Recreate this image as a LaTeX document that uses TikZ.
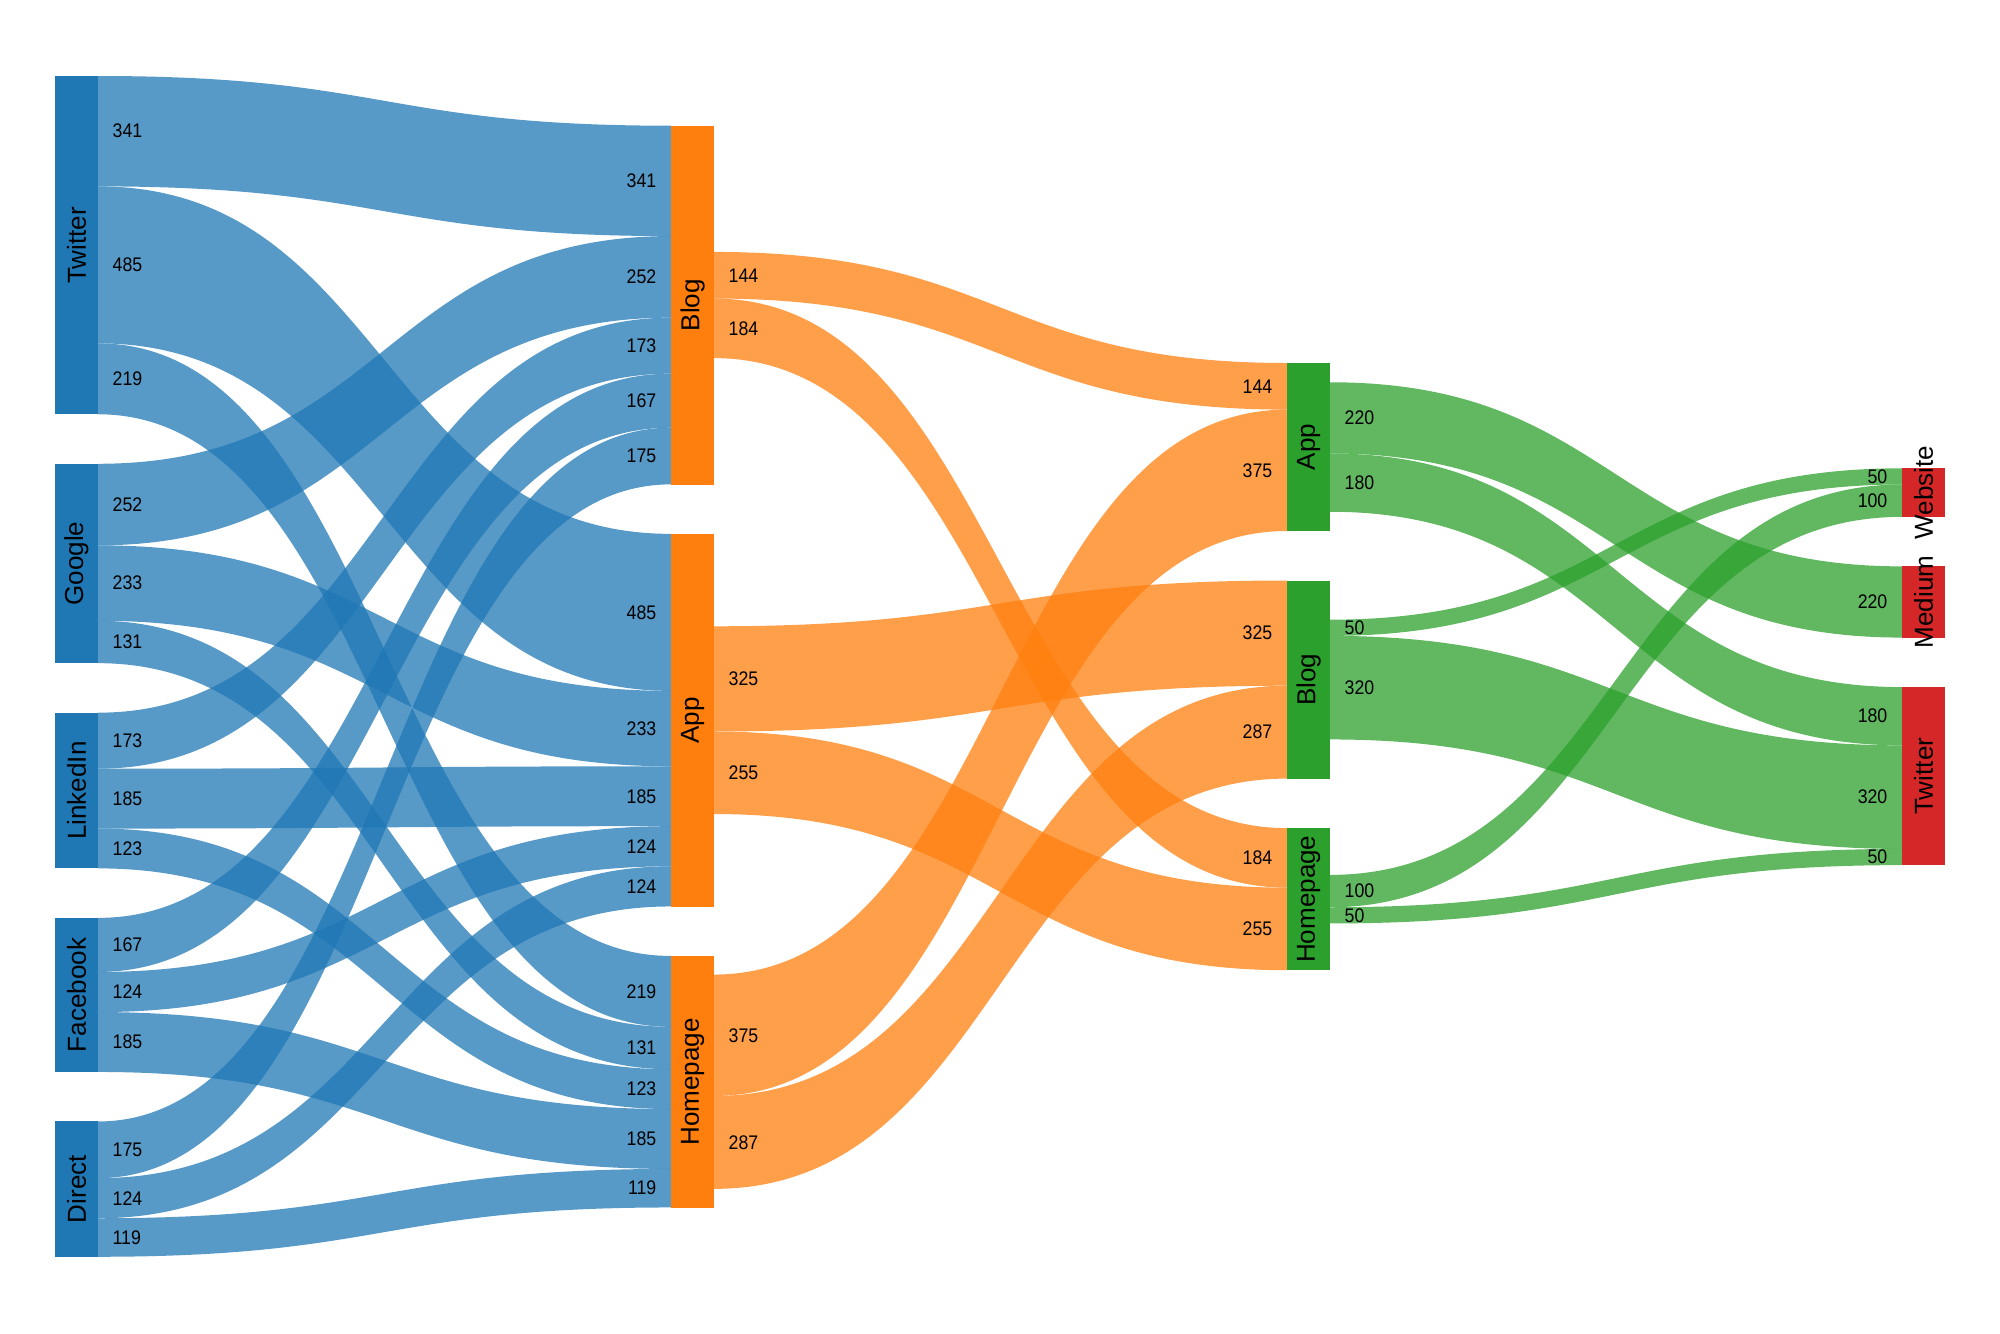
\documentclass[tikz,border=0pt]{standalone}
\usepackage{fontspec}
\setmainfont{Liberation Sans}
\newfontfamily\numfont{Liberation Sans}[FakeStretch=0.9]
\definecolor{srcblue}{HTML}{1F77B4}
\definecolor{midorange}{HTML}{FF7F0E}
\definecolor{pagegreen}{HTML}{2CA02C}
\definecolor{endred}{HTML}{D62728}

% band from x0 (top,bottom) to x1 (top,bottom), value written at both ends
\newcommand{\flowband}[8]{%
  \fill[#1,fill opacity=0.75] (#2,#3) .. controls ({(#2+#5)/2},#3) and ({(#2+#5)/2},#6) .. (#5,#6)
    -- (#5,#7) .. controls ({(#2+#5)/2},#7) and ({(#2+#5)/2},#4) .. (#2,#4) -- cycle;
  \node[numtext,anchor=west] at ({#2+14},{(#3+#4)/2}) {#8};
  \node[numtext,anchor=east] at ({#5-14},{(#6+#7)/2}) {#8};}

\begin{document}
\begin{tikzpicture}[x=0.01cm,y=-0.01cm,
    bar/.style={anchor=north west,minimum width=0.43cm,inner sep=0pt,outer sep=0pt},
    bartext/.style={rotate=90,inner sep=0pt,font=\fontsize{7.4}{8}\selectfont},
    numtext/.style={inner sep=0pt,font=\numfont\fontsize{5.6}{6}\selectfont}]
\useasboundingbox (0,0) rectangle (2000,1333);

% sources -> first pages
\flowband{srcblue}{98}{76.0}{186.38}{671}{125.7}{236.08}{341}
\flowband{srcblue}{98}{186.38}{343.38}{671}{533.86}{690.86}{485}
\flowband{srcblue}{98}{343.38}{414.27}{671}{955.94}{1026.83}{219}
\flowband{srcblue}{98}{463.77}{545.34}{671}{236.08}{317.65}{252}
\flowband{srcblue}{98}{545.34}{620.76}{671}{690.86}{766.28}{233}
\flowband{srcblue}{98}{620.76}{663.16}{671}{1026.83}{1069.23}{131}
\flowband{srcblue}{98}{712.67}{768.67}{671}{317.65}{373.65}{173}
\flowband{srcblue}{98}{768.67}{828.55}{671}{766.28}{826.16}{185}
\flowband{srcblue}{98}{828.55}{868.37}{671}{1069.23}{1109.05}{123}
\flowband{srcblue}{98}{917.87}{971.93}{671}{373.65}{427.71}{167}
\flowband{srcblue}{98}{971.93}{1012.07}{671}{826.16}{866.30}{124}
\flowband{srcblue}{98}{1012.07}{1071.95}{671}{1109.05}{1168.93}{185}
\flowband{srcblue}{98}{1121.45}{1178.10}{671}{427.71}{484.36}{175}
\flowband{srcblue}{98}{1178.10}{1218.24}{671}{866.30}{906.44}{124}
\flowband{srcblue}{98}{1218.24}{1256.76}{671}{1168.93}{1207.45}{119}

% first pages -> second pages
\flowband{midorange}{714}{251.94}{298.55}{1287}{363.0}{409.61}{144}
\flowband{midorange}{714}{298.55}{358.11}{1287}{828.1}{887.66}{184}
\flowband{midorange}{714}{626.28}{731.48}{1287}{580.5}{685.70}{325}
\flowband{midorange}{714}{731.48}{814.02}{1287}{887.66}{970.2}{255}
\flowband{midorange}{714}{974.55}{1095.94}{1287}{409.61}{531.0}{375}
\flowband{midorange}{714}{1095.94}{1188.84}{1287}{685.70}{778.60}{287}

% second pages -> exits
\flowband{pagegreen}{1330}{382.26}{453.47}{1902}{566.36}{637.57}{220}
\flowband{pagegreen}{1330}{453.47}{511.74}{1902}{687.07}{745.34}{180}
\flowband{pagegreen}{1330}{619.67}{635.86}{1902}{468.3}{484.49}{50}
\flowband{pagegreen}{1330}{635.86}{739.44}{1902}{745.34}{848.92}{320}
\flowband{pagegreen}{1330}{874.87}{907.24}{1902}{484.49}{516.86}{100}
\flowband{pagegreen}{1330}{907.24}{923.43}{1902}{848.92}{865.11}{50}

% node bars
\node[bar,fill=srcblue,minimum height=3.3827cm] (twitter) at (55,76) {};
\node[bar,fill=srcblue,minimum height=1.994cm] (google) at (55,463.77) {};
\node[bar,fill=srcblue,minimum height=1.557cm] (linkedin) at (55,712.67) {};
\node[bar,fill=srcblue,minimum height=1.5408cm] (facebook) at (55,917.87) {};
\node[bar,fill=srcblue,minimum height=1.3531cm] (direct) at (55,1121.45) {};
\node[bar,fill=midorange,minimum height=3.5866cm] (blog1) at (671,125.7) {};
\node[bar,fill=midorange,minimum height=3.7258cm] (app1) at (671,533.86) {};
\node[bar,fill=midorange,minimum height=2.5151cm] (home1) at (671,955.94) {};
\node[bar,fill=pagegreen,minimum height=1.68cm] (app2) at (1287,363) {};
\node[bar,fill=pagegreen,minimum height=1.981cm] (blog2) at (1287,580.5) {};
\node[bar,fill=pagegreen,minimum height=1.421cm] (home2) at (1287,828.1) {};
\node[bar,fill=endred,minimum height=0.4856cm] (website) at (1902,468.3) {};
\node[bar,fill=endred,minimum height=0.7121cm] (medium) at (1902,566.36) {};
\node[bar,fill=endred,minimum height=1.7804cm] (twitterout) at (1902,687.07) {};

% node names
\node[bartext] at (twitter) {Twitter};
\node[bartext] at (google) {Google};
\node[bartext] at (linkedin) {LinkedIn};
\node[bartext] at (facebook) {Facebook};
\node[bartext] at (direct) {Direct};
\node[bartext] at (blog1) {Blog};
\node[bartext] at (app1) {App};
\node[bartext] at (home1) {Homepage};
\node[bartext] at (app2) {App};
\node[bartext] at (blog2) {Blog};
\node[bartext] at (home2) {Homepage};
\node[bartext] at (website) {Website};
\node[bartext] at (medium) {Medium};
\node[bartext] at (twitterout) {Twitter};
\end{tikzpicture}
\end{document}
